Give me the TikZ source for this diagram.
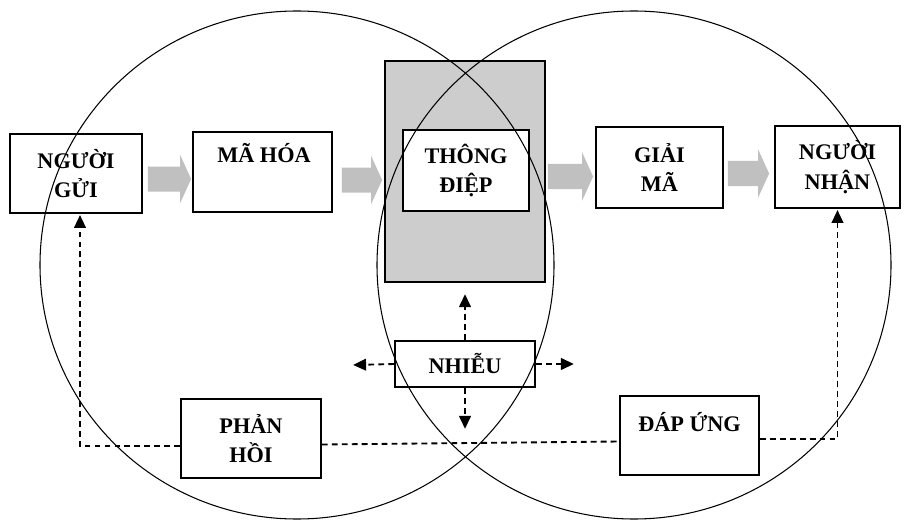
\documentclass[tikz,border=0pt]{standalone}
\usepackage{fontspec}
\setmainfont{Liberation Serif}
\usepackage{xcolor}
\usepackage{tikz}
\usetikzlibrary{arrows.meta,positioning}
\definecolor{shade}{RGB}{205,205,205}
\definecolor{fatgray}{RGB}{192,192,192}

\begin{document}
\begin{tikzpicture}[x=0.3mm, y=-0.3mm,
  box/.style={draw=black, fill=white, line width=1.5pt, inner sep=0pt},
  txt/.style={font=\bfseries\fontsize{19}{25}\selectfont, align=center},
  fat/.style={draw=fatgray, line width=7.5mm,
    -{Triangle[length=3.3mm, width=14.4mm]}},
  fb/.style={line width=1.6pt, dash pattern=on 5pt off 3.5pt},
  tip/.style={-{Triangle[length=11pt, width=10pt]}, shorten >=1pt},
  ring/.style={line width=0.9pt},
]
  \useasboundingbox (0,0) rectangle (906,520);

  % message block (grey)
  \node[box, fill=shade, minimum width=48mm, minimum height=66.3mm] (msg) at (465,171.5) {};
  \node[box, txt, minimum width=37.8mm, minimum height=24.3mm] (msgin) at (466,170.5) {THÔNG\\ĐIỆP};

  % chain of boxes
  \node[box, txt, minimum width=39.6mm, minimum height=23.7mm] (gui) at (76,173.5) {NGƯỜI\\GỬI};
  \node[box, minimum width=41.7mm, minimum height=24mm] (ma) at (262.5,172) {};
  \node[txt] (matxt) at (264,153) {MÃ HÓA};
  \node[box, txt, minimum width=38.1mm, minimum height=24.3mm] (gm) at (659.5,167.5) {GIẢI\\MÃ};
  \node[box, txt, minimum width=37.5mm, minimum height=24.6mm] (nhan) at (837.5,167) {NGƯỜI\\NHẬN};

  % noise and feedback
  \node[box, txt, minimum width=42mm, minimum height=13.8mm] (nhieu) at (465,364) {NHIỄU};
  \node[box, txt, minimum width=42mm, minimum height=23.7mm] (phan) at (251,438.5) {PHẢN\\HỒI};
  \node[box, minimum width=41.7mm, minimum height=23.7mm] (dap) at (689.5,435.5) {};
  \node[txt] (daptxt) at (689.5,422) {ĐÁP ỨNG};

  % grey arrows
  \draw[fat, shorten <=1.5mm, shorten >=0.3mm]
    ([yshift=-1.65mm]gui.east) -- ([yshift=-2.1mm]ma.west);
  \draw[fat, shorten <=2.7mm, shorten >=0.6mm]
    ([yshift=-2.4mm]ma.east) -- ([yshift=-2.55mm]msg.west);
  \draw[fat, shorten <=0.6mm, shorten >=0.6mm]
    ([yshift=-1.5mm]msg.east) -- ([yshift=-2.7mm]gm.west);
  \draw[fat, shorten <=1.2mm, shorten >=1.5mm]
    ([yshift=-1.8mm]gm.east) -- ([yshift=-1.95mm]nhan.west);

  % feedback loop
  \draw[fb, tip] ([yshift=-2.25mm]phan.west) -| ([xshift=1.2mm]gui.south);
  \draw[fb] ([yshift=-1.8mm]phan.east) -- ([yshift=-1.8mm]dap.west);
  \draw[fb, tip] ([yshift=-1.05mm]dap.east) -| (nhan.south);

  % noise arrows
  \coordinate (nup) at (465,293);
  \coordinate (nleft) at (352,365);
  \coordinate (nright) at (575,364);
  \coordinate (ndown) at (465,430);
  \draw[fb, tip] (nhieu.north) -- (nup);
  \draw[fb, tip] (nhieu.west) -- (nleft);
  \draw[fb, tip] (nhieu.east) -- (nright);
  \draw[fb, tip] (nhieu.south) -- (ndown);

  % sender / receiver fields
  \draw[ring] (297,265) ellipse [x radius=257, y radius=254];
  \draw[ring] (634,265) ellipse [x radius=257, y radius=254];
\end{tikzpicture}
\end{document}
